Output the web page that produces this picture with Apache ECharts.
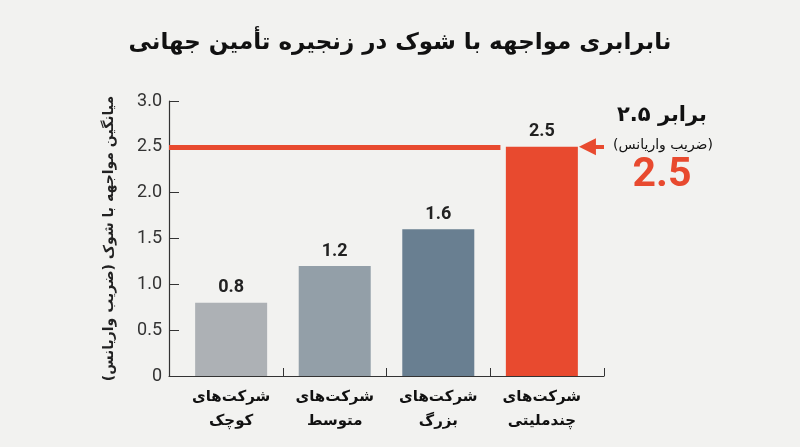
<!DOCTYPE html>
<html><head><meta charset="utf-8">
<script src="https://cdn.jsdelivr.net/npm/echarts@6/dist/echarts.min.js"></script>
<style>html,body{margin:0;padding:0;background:#f2f2f0;}#c{width:800px;height:447px;}</style>
</head><body><div id="c"></div>
<script>
var categories = ['شرکت‌های\nکوچک', 'شرکت‌های\nمتوسط', 'شرکت‌های\nبزرگ', 'شرکت‌های\nچندملیتی'];
var values = [0.8, 1.2, 1.6, 2.5];
var barColors = ['#adb1b5', '#939fa8', '#697f91', '#e84a2f'];
var yTicks = [0, 0.5, 1.0, 1.5, 2.0, 2.5, 3.0];
var titleText = 'نابرابری مواجهه با شوک در زنجیره تأمین جهانی';
var yName = 'میانگین مواجهه با شوک (ضریب واریانس)';
var refValue = 2.5;

var FA = "'DejaVu Sans', sans-serif";
var NUM = "Roboto, 'DejaVu Sans', sans-serif";
var chart = echarts.init(document.getElementById('c'), null, {renderer: 'canvas'});
var data = values.map(function (v, i) {
  return {value: [i, v], itemStyle: {color: barColors[i]}};
});
var option = {
  backgroundColor: '#f2f2f0',
  animation: false,
  title: {
    text: titleText, left: 'center', top: 27,
    textStyle: {fontFamily: FA, fontSize: 23, fontWeight: 'bold', color: '#111'}
  },
  grid: {left: 169, right: 196, top: 101, bottom: 71, containLabel: false},
  xAxis: {
    type: 'value', min: -0.6, max: 3.6,
    splitLine: {show: false},
    axisLine: {show: true, onZero: false, lineStyle: {color: '#333', width: 1.2}},
    axisTick: {show: true, inside: true, length: 8, customValues: [0.5, 1.5, 2.5, 3.6], lineStyle: {color: '#333'}},
    axisLabel: {
      customValues: [0, 1, 2, 3], margin: 9,
      formatter: function (v) { return categories[Math.round(v)]; },
      fontFamily: FA, fontSize: 15, fontWeight: 'bold', color: '#111', lineHeight: 24
    }
  },
  yAxis: {
    type: 'value', min: 0, max: 3, interval: 0.5,
    name: yName, nameLocation: 'middle', nameRotate: 90, nameGap: 53,
    nameTextStyle: {fontFamily: FA, fontSize: 14, fontWeight: 'bold', color: '#222'},
    splitLine: {show: false},
    axisLine: {show: true, onZero: false, lineStyle: {color: '#333', width: 1.2}},
    axisTick: {show: true, inside: true, length: 10, lineStyle: {color: '#333'}},
    axisLabel: {
      margin: 7, fontFamily: NUM, fontSize: 18, color: '#333',
      formatter: function (v) { return v === 0 ? '0' : v.toFixed(1); }
    }
  },
  series: [{
    type: 'bar', data: data, barWidth: 72,
    label: {show: true, position: 'top', distance: 6, fontFamily: NUM, fontSize: 18, fontWeight: 'bold', color: '#222',
      formatter: function (p) { return p.value[1].toFixed(1); }},
    markLine: {
      silent: true, symbol: ['none', 'none'], label: {show: false},
      data: [
        [{coord: [-0.6, refValue], lineStyle: {color: '#e84a2f', width: 5, type: 'solid'}}, {coord: [2.6, refValue]}],
        [{coord: [3.6, refValue], symbol: 'none', lineStyle: {color: '#e84a2f', width: 4, type: 'solid'}},
         {coord: [3.44, refValue], symbol: 'triangle', symbolSize: [17, 17]}]
      ]
    }
  }],
  graphic: [
    {type: 'text', x: 662, y: 116, style: {text: '۲.۵ برابر', fontFamily: FA, fontSize: 21, fontWeight: 'bold', fill: '#111', align: 'center', verticalAlign: 'middle'}},
    {type: 'text', x: 663, y: 145, style: {text: '(ضریب واریانس)', fontFamily: FA, fontSize: 14, fill: '#111', align: 'center', verticalAlign: 'middle'}},
    {type: 'text', x: 662, y: 176, style: {text: '2.5', fontFamily: NUM, fontSize: 41, fontWeight: 'bold', fill: '#e84a2f', align: 'center', verticalAlign: 'middle'}}
  ]
};
chart.setOption(option);
</script></body></html>
